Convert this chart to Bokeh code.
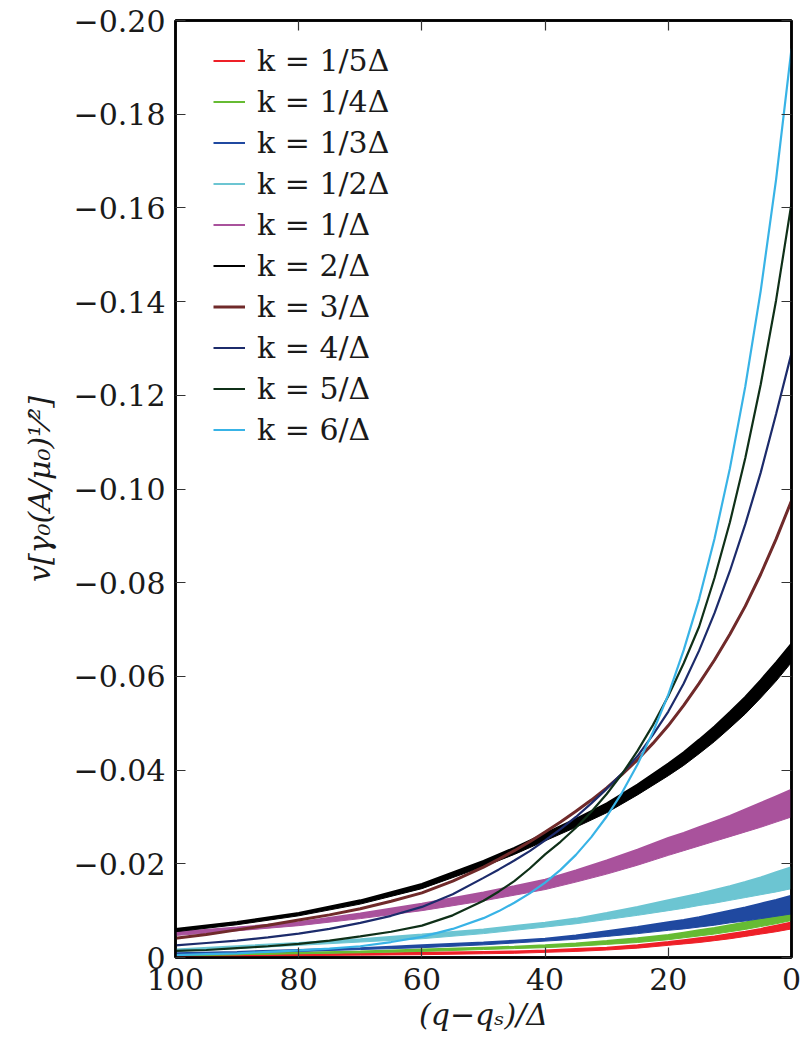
from bokeh.plotting import figure
from bokeh.models import (Range1d, FixedTicker, CustomJSTickFormatter, LinearAxis,
                          Legend, LegendItem)
from bokeh.embed import file_html
from bokeh.resources import INLINE

# ---------------- data (magnitudes of v; plotted as negative values) ----------------
# grid for the wide bands (small k)
x_vals = [0, 2.5, 5, 7.5, 10, 12.5, 15, 17.5, 20, 25, 30, 35, 40, 45, 50, 60, 70, 80, 90, 100]

red_hi = [0.0075, 0.0068, 0.0061, 0.0055, 0.0050, 0.0045, 0.0041, 0.0037, 0.0033, 0.0026, 0.0021, 0.0018, 0.0015, 0.0013, 0.0012, 0.0010, 0.0008, 0.0006, 0.0004, 0.0003]
red_lo = [0.0061, 0.0055, 0.0050, 0.0045, 0.0040, 0.0036, 0.0032, 0.0029, 0.0026, 0.0020, 0.0016, 0.0013, 0.0011, 0.0009, 0.0008, 0.0006, 0.0005, 0.0004, 0.0003, 0.0002]

green_hi = [0.0098, 0.0090, 0.0082, 0.0075, 0.0069, 0.0063, 0.0058, 0.0053, 0.0048, 0.0041, 0.0035, 0.0030, 0.0026, 0.0023, 0.0021, 0.0017, 0.0013, 0.0010, 0.0007, 0.0005]
green_lo = [0.0079, 0.0072, 0.0066, 0.0060, 0.0055, 0.0050, 0.0046, 0.0042, 0.0038, 0.0032, 0.0028, 0.0024, 0.0021, 0.0019, 0.0017, 0.0013, 0.0010, 0.0008, 0.0006, 0.0004]

blue_hi = [0.0132, 0.0123, 0.0115, 0.0107, 0.0100, 0.0093, 0.0086, 0.0080, 0.0075, 0.0065, 0.0056, 0.0047, 0.0040, 0.0036, 0.0032, 0.0026, 0.0020, 0.0016, 0.0012, 0.0009]
blue_lo = [0.0093, 0.0088, 0.0083, 0.0078, 0.0074, 0.0069, 0.0065, 0.0061, 0.0058, 0.0051, 0.0045, 0.0039, 0.0035, 0.0031, 0.0027, 0.0021, 0.0017, 0.0013, 0.0010, 0.0007]

cyan_hi = [0.0193, 0.0182, 0.0171, 0.0161, 0.0152, 0.0144, 0.0136, 0.0129, 0.0122, 0.0108, 0.0095, 0.0083, 0.0074, 0.0067, 0.0060, 0.0049, 0.0039, 0.0031, 0.0024, 0.0017]
cyan_lo = [0.0147, 0.0140, 0.0134, 0.0128, 0.0122, 0.0116, 0.0111, 0.0105, 0.0100, 0.0090, 0.0081, 0.0072, 0.0065, 0.0058, 0.0051, 0.0040, 0.0033, 0.0026, 0.0019, 0.0013]

magenta_hi = [0.0358, 0.0344, 0.0330, 0.0316, 0.0302, 0.0290, 0.0278, 0.0266, 0.0255, 0.0230, 0.0207, 0.0186, 0.0166, 0.0152, 0.0139, 0.0115, 0.0094, 0.0075, 0.0064, 0.0054]
magenta_lo = [0.0300, 0.0289, 0.0278, 0.0268, 0.0258, 0.0248, 0.0238, 0.0228, 0.0218, 0.0197, 0.0178, 0.0161, 0.0145, 0.0133, 0.0121, 0.0100, 0.0083, 0.0068, 0.0057, 0.0047]

black_hi = [0.0670, 0.0630, 0.0592, 0.0556, 0.0524, 0.0493, 0.0465, 0.0438, 0.0414, 0.0369, 0.0329, 0.0296, 0.0265, 0.0234, 0.0206, 0.0157, 0.0122, 0.0095, 0.0076, 0.0061]
black_lo = [0.0630, 0.0590, 0.0554, 0.0520, 0.0490, 0.0461, 0.0435, 0.0410, 0.0388, 0.0347, 0.0309, 0.0278, 0.0249, 0.0220, 0.0194, 0.0147, 0.0114, 0.0089, 0.0070, 0.0055]

# finer grid for the steep curves (large k)
x_fine = [0, 2.5, 5, 7.5, 10, 12.5, 15, 17.5, 20, 22.5, 25, 27.5, 30, 32.5, 35, 37.5, 40,
          42.5, 45, 47.5, 50, 55, 60, 65, 70, 75, 80, 85, 90, 95, 100]

brown_mid = [0.0975, 0.0893, 0.0818, 0.0750, 0.0690, 0.0635, 0.0585, 0.0538, 0.0495, 0.0457, 0.0422,
             0.0391, 0.0362, 0.0336, 0.0312, 0.0289, 0.0268, 0.0247, 0.0228, 0.0210, 0.0193,
             0.0163, 0.0138, 0.0120, 0.0104, 0.0091, 0.0080, 0.0069, 0.0059, 0.0049, 0.0041]
brown_half = [0.0005, 0.00045, 0.0004, 0.0004, 0.00035, 0.00035, 0.0003, 0.0003, 0.0003, 0.00025, 0.00025,
              0.00025, 0.0002, 0.0002, 0.0002, 0.0002, 0.00015, 0.00015, 0.00015, 0.00015, 0.00015,
              0.0001, 0.0001, 0.0001, 0.0001, 0.0001, 0.0001, 0.0001, 0.0001, 0.0001, 0.0001]

navy = [0.1290, 0.1160, 0.1035, 0.0925, 0.0825, 0.0735, 0.0655, 0.0585, 0.0525, 0.0475, 0.0430,
        0.0393, 0.0360, 0.0329, 0.0300, 0.0274, 0.0250, 0.0227, 0.0207, 0.0188, 0.0170,
        0.0135, 0.0108, 0.0089, 0.0074, 0.0061, 0.0051, 0.0043, 0.0036, 0.0031, 0.0026]

dkgreen = [0.1610, 0.1403, 0.1223, 0.1066, 0.0929, 0.0810, 0.0706, 0.0628, 0.0558, 0.0496, 0.0441,
           0.0392, 0.0349, 0.0311, 0.0277, 0.0247, 0.0220, 0.0190, 0.0163, 0.0141, 0.0121,
           0.0090, 0.0068, 0.0055, 0.0045, 0.0036, 0.0029, 0.0024, 0.0020, 0.0016, 0.0014]

ltblue = [0.1940, 0.1661, 0.1423, 0.1219, 0.1044, 0.0894, 0.0765, 0.0656, 0.0561, 0.0481, 0.0412,
          0.0352, 0.0301, 0.0257, 0.0219, 0.0187, 0.0160, 0.0137, 0.0117, 0.0099, 0.0084,
          0.0061, 0.0044, 0.0033, 0.0024, 0.0019, 0.0015, 0.0012, 0.0009, 0.0007, 0.0005]

labels = ["k = 1/5Δ", "k = 1/4Δ", "k = 1/3Δ", "k = 1/2Δ", "k = 1/Δ",
          "k = 2/Δ", "k = 3/Δ", "k = 4/Δ", "k = 5/Δ", "k = 6/Δ"]
colors = ["#EE2028", "#66BB33", "#2049A0", "#6CC5D2", "#A9529C",
          "#000000", "#702A2A", "#1C2B6B", "#0F3018", "#38B3E6"]

x_ticks = [0, 20, 40, 60, 80, 100]
y_ticks = [0, -0.02, -0.04, -0.06, -0.08, -0.10, -0.12, -0.14, -0.16, -0.18, -0.20]

bands = [(red_lo, red_hi), (green_lo, green_hi), (blue_lo, blue_hi), (cyan_lo, cyan_hi),
         (magenta_lo, magenta_hi), (black_lo, black_hi)]
lines = [navy, dkgreen, ltblue]

FONT = "DejaVu Serif"
TXT = "#1a1a1a"

p = figure(width=803, height=1049,
           min_border_left=175, min_border_top=20, min_border_right=12, min_border_bottom=92,
           x_range=Range1d(100, 0), y_range=Range1d(0, -0.20),
           output_backend="svg", toolbar_location=None,
           x_axis_label="(q−qₛ)/Δ", y_axis_label="v[γ₀(A/μ₀)¹⁄²]")

p.xgrid.visible = False
p.ygrid.visible = False
p.outline_line_color = "black"
p.outline_line_width = 2.5
p.background_fill_color = "white"
p.border_fill_color = "white"


def neg(arr):
    return [-v for v in arr]


legend_renderers = []
for i, (lo, hi) in enumerate(bands):
    c = colors[i]
    p.varea(x=x_vals, y1=neg(lo), y2=neg(hi), fill_color=c, fill_alpha=1.0)
    p.line(x_vals, neg(lo), line_color=c, line_width=1)
    r = p.line(x_vals, neg(hi), line_color=c, line_width=2)
    legend_renderers.append(r)

# k = 3/Δ : narrow band
brown_hi = [m + h for m, h in zip(brown_mid, brown_half)]
brown_lo = [m - h for m, h in zip(brown_mid, brown_half)]
p.varea(x=x_fine, y1=neg(brown_lo), y2=neg(brown_hi), fill_color=colors[6], fill_alpha=1.0)
r = p.line(x_fine, neg(brown_mid), line_color=colors[6], line_width=3)
legend_renderers.append(r)

for j, arr in enumerate(lines):
    r = p.line(x_fine, neg(arr), line_color=colors[7 + j], line_width=2.2)
    legend_renderers.append(r)

items = [LegendItem(label=labels[i], renderers=[legend_renderers[i]]) for i in range(len(labels))]
legend = Legend(items=items, location=(38, 507), padding=0, margin=0, spacing=0,
                glyph_width=32, glyph_height=41, label_height=41, label_standoff=12,
                label_text_font=FONT, label_text_font_size="30px", label_text_color=TXT,
                border_line_color=None, background_fill_alpha=0)
p.add_layout(legend)

fmt_y = CustomJSTickFormatter(code="""
    if (Math.abs(tick) < 1e-9) { return "0"; }
    return "\u2212" + Math.abs(tick).toFixed(2);
""")
blank = CustomJSTickFormatter(code="return '';")

for ax in (p.xaxis[0], p.yaxis[0]):
    ax.major_tick_in = 10
    ax.major_tick_out = 0
    ax.minor_tick_line_color = None
    ax.major_tick_line_color = "#333333"
    ax.major_tick_line_width = 1.2
    ax.axis_line_color = "black"
    ax.axis_line_width = 2.5
    ax.major_label_text_font = FONT
    ax.major_label_text_font_size = "30px"
    ax.major_label_text_color = TXT
    ax.axis_label_text_font = FONT
    ax.axis_label_text_font_size = "30px"
    ax.axis_label_text_font_style = "italic"
    ax.axis_label_text_color = TXT
    ax.major_label_standoff = 10

p.xaxis[0].ticker = FixedTicker(ticks=x_ticks)
p.yaxis[0].ticker = FixedTicker(ticks=y_ticks)
p.yaxis[0].formatter = fmt_y
p.xaxis[0].axis_label_standoff = 4
p.yaxis[0].axis_label_standoff = 14

right_ax = LinearAxis(ticker=FixedTicker(ticks=y_ticks), formatter=blank,
                      major_tick_in=10, major_tick_out=0, minor_tick_line_color=None,
                      major_tick_line_color="#333333", major_tick_line_width=1.2,
                      axis_line_color="black", axis_line_width=2.5, major_label_standoff=0,
                      major_label_text_font_size="1px")
top_ax = LinearAxis(ticker=FixedTicker(ticks=x_ticks), formatter=blank,
                    major_tick_in=10, major_tick_out=0, minor_tick_line_color=None,
                    major_tick_line_color="#333333", major_tick_line_width=1.2,
                    axis_line_color="black", axis_line_width=2.5, major_label_standoff=0,
                    major_label_text_font_size="1px")
p.add_layout(right_ax, "right")
p.add_layout(top_ax, "above")

open("out.html", "w").write(file_html(p, INLINE))
